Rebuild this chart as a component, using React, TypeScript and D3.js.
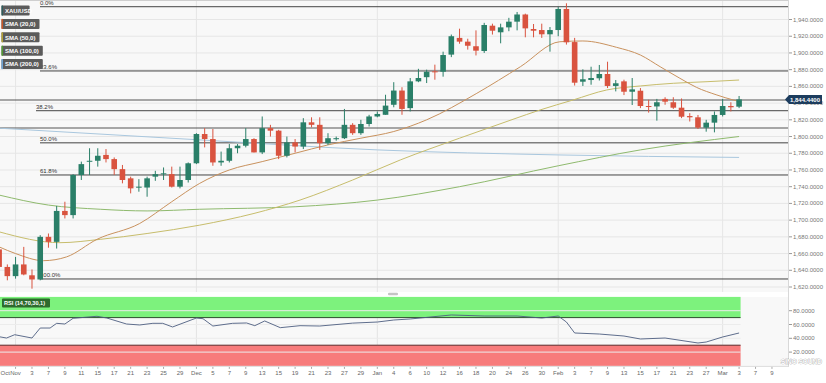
import React from 'react';
import * as d3 from 'd3';

const W = 826;
const H = 383;

// Candles start at index -1 (Oct 28) and run to index 89 (Mar 3)
const firstIndex = -1;
const opens = [1665,1644,1633,1647,1634,1629,1680,1674,1711,1706,1754,1770,1771,1778,1773,1761,1750,1739,1739,1752,1755,1755,1740,1748,1768,1803,1797,1769,1771,1786,1789,1797,1781,1810,1807,1777,1793,1788,1817,1814,1792,1798,1798,1814,1804,1815,1824,1826,1838,1855,1834,1866,1871,1878,1877.5,1898,1918,1913.5,1908,1902.3,1932.6,1924.7,1930.6,1937.4,1946,1928.6,1927.4,1922.3,1927.4,1952.6,1913,1865.6,1867.6,1869.7,1874.8,1860.5,1866,1853.6,1854.8,1836.5,1836,1845,1841,1834.5,1824.5,1823,1810.6,1816.6,1825.8,1836.5,1835.7];
const highs = [1668,1647,1656,1668,1641,1682,1684,1717,1722,1755,1770,1786,1786,1785,1775,1766,1752,1749,1752,1759,1763,1764,1764,1769,1804,1810,1809,1782,1791,1791,1810,1798,1824,1814,1808,1800,1797,1822,1823,1823,1804,1800,1833,1816,1820,1826,1830,1850,1865,1859,1870,1881,1880,1886,1901.5,1922,1929,1917,1927,1936,1935,1935,1942,1949,1947,1934.6,1935,1931,1955,1959.4,1918,1880.4,1883.5,1885.6,1889.5,1867.6,1868,1870,1858,1844,1845,1847,1847,1845.5,1828,1825.8,1820,1830,1845,1841,1848.5];
const lows = [1640,1628,1630,1634,1618,1628,1667,1666,1702,1702,1748,1754,1764,1769,1754,1744,1732,1734,1728,1747,1748,1739,1738,1745,1767,1787,1765,1765,1769,1780,1787,1781,1779,1800,1773,1775,1781,1785,1811,1784,1790,1795,1797,1802,1802,1812,1823,1826,1835,1826,1830,1865,1864,1868,1871.6,1895,1911,1904,1897,1900,1922,1911.5,1926,1927,1918.7,1918.7,1918,1901.5,1920,1910,1861,1860.5,1862,1867,1858,1854,1849.6,1837.7,1834,1828.6,1819,1838,1833,1822,1818,1809,1805.8,1805,1824,1830,1834];
const closes = [1644,1633,1647,1635,1629,1680,1674,1711,1706,1754,1767,1771,1777,1773,1761,1748,1738,1740,1750,1755,1756,1740,1748,1768,1803,1797,1769,1771,1786,1789,1797,1781,1810,1807,1777,1793,1788,1817,1814,1792,1798,1798,1814,1804,1815,1824,1827,1837,1855,1833,1866,1870,1877.5,1877,1897.5,1920,1913.5,1908.6,1902.7,1933.4,1926.6,1930.6,1937.4,1946,1929.4,1926.6,1922.3,1927.4,1952.6,1912.7,1864.4,1868.5,1870,1874.8,1860.5,1863.7,1853.6,1856.4,1836.5,1836,1841,1841.7,1834.5,1823.7,1823,1810.6,1816.6,1825.8,1836.5,1835,1844.4];

const lastPrice = 1844.44;

// Moving averages: [index, value]
const sma20: [number, number][] = [[-1,1668],[1,1660],[4.4,1651.5],[7.2,1656],[10.9,1677],[16.1,1696],[20,1722],[23.4,1744],[27,1760],[31,1770],[35,1780],[39,1790],[43,1798],[47,1806],[51,1820],[57.1,1851.7],[62.4,1883.5],[67.2,1913.4],[70,1914.3],[74.1,1906.7],[77,1897.5],[79.4,1883.5],[81.8,1869.7],[83.8,1858.9],[86.3,1849.7],[88.3,1843.7],[89,1842]];
const sma50: [number, number][] = [[-1,1686],[6.4,1673],[11.3,1677],[17,1684],[23.4,1694],[30,1708],[35.6,1724],[42,1748],[47.8,1772],[55,1798],[61.5,1820.6],[64.8,1831.8],[68.8,1843.7],[72.9,1855.7],[77,1860.5],[81,1863.7],[85.1,1865.6],[89,1867.6]];
const sma100: [number, number][] = [[-1,1730],[5,1718],[11.3,1713],[17,1711],[23.4,1713],[35,1716],[45,1724],[55,1740],[67,1765],[77,1784],[89,1800]];
const sma200: [number, number][] = [[-1,1810],[23.4,1796],[45,1784],[67,1778],[89,1775]];

// RSI(14): [index, value]
const rsi: [number, number][] = [[-1,42.3],[-0.1,40.4],[0.9,45.2],[3,40.4],[4,54.9],[5.2,54.9],[6,61.7],[7,60.7],[8,69],[10.9,71.9],[12.1,69.4],[14.5,60.7],[16.1,59.3],[17.7,61.7],[18.9,61.7],[20.1,56.4],[23,69.4],[23.8,68.4],[25,57.8],[27.4,61.7],[29.1,62.2],[30.1,58.3],[31.3,65.1],[33.2,55.4],[35.6,58.3],[38,57.8],[42,62],[45,63.6],[47,66.5],[49,68],[54,73.8],[58,72.3],[62,72.3],[65,69.4],[67,72.3],[68,63.6],[69,47.7],[72,46.2],[75,43.3],[77,39],[80,40.4],[84,33.2],[85,34.6],[87,41.9],[89,47.7]];

// Fibonacci levels
const fibLabels = ['0.0%', '23.6%', '38.2%', '50.0%', '61.8%', '100.0%'];
const fibRatios = [0, 0.236, 0.382, 0.5, 0.618, 1];
const fibHigh = 1955.3;
const fibLow = 1629.6;
const extraLevels = [1843.7, 1810.2];

const priceTicks = [1620,1640,1660,1680,1700,1720,1740,1760,1780,1800,1820,1840,1860,1880,1900,1920,1940];
const rsiTicks = [20, 40, 60, 80];

const xTicks: [number, string][] = [[-1,'Oct'],[1,'Nov'],[3,'3'],[5,'7'],[7,'9'],[9,'11'],[11,'15'],[13,'17'],[15,'21'],[17,'23'],[19,'25'],[21,'29'],[23,'Dec'],[25,'5'],[27,'7'],[29,'9'],[31,'13'],[33,'15'],[35,'19'],[37,'21'],[39,'23'],[41,'27'],[43,'29'],[45,'Jan'],[47,'4'],[49,'6'],[51,'10'],[53,'12'],[55,'16'],[57,'18'],[59,'20'],[61,'24'],[63,'26'],[65,'30'],[67,'Feb'],[69,'3'],[71,'7'],[73,'9'],[75,'13'],[77,'15'],[79,'17'],[81,'21'],[83,'23'],[85,'27'],[87,'Mar'],[89,'3'],[91,'7'],[93,'9']];
const monthStarts = [1, 23, 45, 67, 87];

const legendItems = [
  { label: 'XAU/USD', color: '#2f5d5d' },
  { label: 'SMA (20,0)', color: '#c8572a' },
  { label: 'SMA (50,0)', color: '#b3a236' },
  { label: 'SMA (100,0)', color: '#4f9a34' },
  { label: 'SMA (200,0)', color: '#6fa3d3' },
];

const FONT = "'Liberation Sans', Arial, sans-serif";

export default function App() {
  const plotRight = 788;
  const mainTop = 0;
  const mainBottom = 292;
  const rsiTop = 296.9;
  const rsiBottom = 365.9;

  const x = d3.scaleLinear().domain([0, 90]).range([7.33, 7.33 + 90 * 8.222]);
  const y = d3.scaleLinear().domain([1620, 1940]).range([287, 19.5]);
  const yr = d3.scaleLinear().domain([0, 100]).range([rsiBottom, rsiTop]);
  const cw = 5.6;

  const line = d3.line<[number, number]>().x(d => x(d[0])).y(d => y(d[1])).curve(d3.curveMonotoneX);
  const rline = d3.line<[number, number]>().x(d => x(d[0])).y(d => yr(d[1])).curve(d3.curveLinear);

  const lastX = x(89) + 1.5;
  const fmt = d3.format(',.4f');

  const fibValues = fibRatios.map(r => fibHigh - r * (fibHigh - fibLow));
  const fibStart = [40, 40, 36, 40, 40, 40];

  const py = y(lastPrice);

  return (
    <svg width={W} height={H} style={{ position: 'absolute', left: 0, top: 0, background: '#fff' }} fontFamily={FONT}>
      <defs>
        <clipPath id="mainClip"><rect x={0} y={mainTop} width={plotRight} height={mainBottom - mainTop} /></clipPath>
        <clipPath id="rsiClip"><rect x={0} y={rsiTop - 1} width={plotRight} height={rsiBottom - rsiTop + 2} /></clipPath>
      </defs>

      {/* main panel background */}
      <rect x={0} y={mainTop} width={plotRight} height={mainBottom - mainTop} fill="#f8f8f8" />
      {priceTicks.map(t => (
        <line key={'g' + t} x1={0} x2={plotRight} y1={y(t)} y2={y(t)} stroke="#e6e6e6" strokeWidth={1} />
      ))}
      {monthStarts.map(m => (
        <line key={'v' + m} x1={x(m)} x2={x(m)} y1={mainTop} y2={mainBottom} stroke="#e6e6e6" strokeWidth={1} />
      ))}
      <line x1={0} x2={plotRight} y1={0.5} y2={0.5} stroke="#cfcfcf" />
      <line x1={plotRight + 0.5} x2={plotRight + 0.5} y1={0} y2={rsiBottom + 1} stroke="#d8d8d8" />

      <g clipPath="url(#mainClip)">
        {/* horizontal levels */}
        {extraLevels.map(v => (
          <line key={'e' + v} x1={0} x2={plotRight} y1={y(v)} y2={y(v)} stroke="#555" strokeWidth={1} />
        ))}
        {fibValues.map((v, i) => (
          <g key={'f' + i}>
            <line x1={fibStart[i]} x2={plotRight} y1={y(v)} y2={y(v)} stroke="#444" strokeWidth={1} />
            <text x={fibStart[i]} y={y(v) - 1.5} fontSize={6} fill="#333">{fibLabels[i]}</text>
          </g>
        ))}

        {/* moving averages */}
        <path d={line(sma200) || ''} fill="none" stroke="#a9c7de" strokeWidth={1} />
        <path d={line(sma100) || ''} fill="none" stroke="#8fba6e" strokeWidth={1} />
        <path d={line(sma50) || ''} fill="none" stroke="#c7bd6c" strokeWidth={1} />
        <path d={line(sma20) || ''} fill="none" stroke="#c9925e" strokeWidth={1} />

        {/* candles */}
        {opens.map((o, k) => {
          const i = k + firstIndex;
          const c = closes[k];
          const up = c >= o;
          const col = up ? '#2a7f68' : '#d9533f';
          const top = y(Math.max(o, c));
          const bot = y(Math.min(o, c));
          const cx = x(i);
          return (
            <g key={'c' + k}>
              <line x1={cx} x2={cx} y1={y(highs[k])} y2={y(lows[k])} stroke={col} strokeWidth={1} />
              <rect x={cx - cw / 2} y={top} width={cw} height={Math.max(1, bot - top)} fill={col} />
            </g>
          );
        })}
      </g>

      {/* right price axis */}
      {priceTicks.map(t => (
        <g key={'t' + t}>
          <line x1={plotRight + 1} x2={plotRight + 4} y1={y(t)} y2={y(t)} stroke="#999" />
          <text x={plotRight + 5} y={y(t) + 2} fontSize={6} fill="#777">{fmt(t)}</text>
        </g>
      ))}
      {/* last price tag */}
      <path d={`M${plotRight - 3},${py} L${plotRight + 1},${py - 4.5} L${plotRight + 34},${py - 4.5} L${plotRight + 34},${py + 4.5} L${plotRight + 1},${py + 4.5} Z`} fill="#1d3d5e" />
      <text x={plotRight + 2} y={py + 2.2} fontSize={6} fontWeight="bold" fill="#fff">{fmt(lastPrice)}</text>

      {/* legend */}
      {legendItems.map((it, i) => {
        const ly = 5.5 + i * 13.4;
        const w = it.label.length * 3.3 + 5;
        return (
          <g key={'l' + i}>
            <rect x={1.5} y={ly} width={w} height={10} fill="#5b5b5b" rx={1} />
            <rect x={1.5} y={ly} width={1.5} height={10} fill={it.color} />
            <text x={5} y={ly + 7.2} fontSize={6} fontWeight="bold" fill="#fff">{it.label}</text>
          </g>
        );
      })}

      {/* panel separator handle */}
      <rect x={388} y={292.8} width={10} height={2.4} rx={1} fill="#c4c4c4" />

      {/* RSI panel */}
      <rect x={0} y={rsiTop} width={plotRight} height={rsiBottom - rsiTop} fill="#f8f8f8" />
      <g clipPath="url(#rsiClip)">
        <rect x={0} y={yr(100)} width={lastX} height={yr(70) - yr(100)} fill="#7df27d" />
        <rect x={0} y={yr(30)} width={lastX} height={yr(0) - yr(30)} fill="#f77b7b" />
        {monthStarts.map(m => (
          <line key={'rv' + m} x1={x(m)} x2={x(m)} y1={yr(70)} y2={yr(30)} stroke="#e3e3e3" />
        ))}
        {rsiTicks.map(t => (
          <line key={'rg' + t} x1={0} x2={lastX} y1={yr(t)} y2={yr(t)} stroke="#ececec" />
        ))}
        <line x1={0} x2={lastX} y1={yr(70)} y2={yr(70)} stroke="#2f4f2f" strokeWidth={1} />
        <line x1={0} x2={lastX} y1={yr(30)} y2={yr(30)} stroke="#5a2a2a" strokeWidth={1} />
        <path d={rline(rsi) || ''} fill="none" stroke="#4d5e80" strokeWidth={0.9} />
      </g>
      <rect x={2} y={298.5} width={48} height={9} fill="#2d6a2d" rx={1} />
      <text x={4} y={305.2} fontSize={5.6} fontWeight="bold" fill="#fff">RSI (14,70,30,1)</text>
      {rsiTicks.map(t => (
        <g key={'rt' + t}>
          <line x1={plotRight + 1} x2={plotRight + 4} y1={yr(t)} y2={yr(t)} stroke="#999" />
          <text x={plotRight + 5} y={yr(t) + 2} fontSize={6} fill="#777">{fmt(t)}</text>
        </g>
      ))}

      {/* x axis */}
      <line x1={0} x2={plotRight} y1={rsiBottom + 0.5} y2={rsiBottom + 0.5} stroke="#ddd" />
      {xTicks.map(([i, lab]) => {
        const cx = x(i);
        const anchorStart = cx < 6;
        return (
          <g key={'x' + i}>
            <line x1={cx} x2={cx} y1={rsiBottom + 1} y2={rsiBottom + 3} stroke="#aaa" />
            <text x={anchorStart ? 0.5 : cx} y={375} fontSize={6} fill="#666" textAnchor={anchorStart ? 'start' : 'middle'}>{lab}</text>
          </g>
        );
      })}

      {/* watermark */}
      <text x={822} y={364} fontSize={6.5} fontWeight="bold" fill="#fff" stroke="#8a8a8a" strokeWidth={0.5} paintOrder="stroke" textAnchor="end">SINO SOUND</text>
    </svg>
  );
}
